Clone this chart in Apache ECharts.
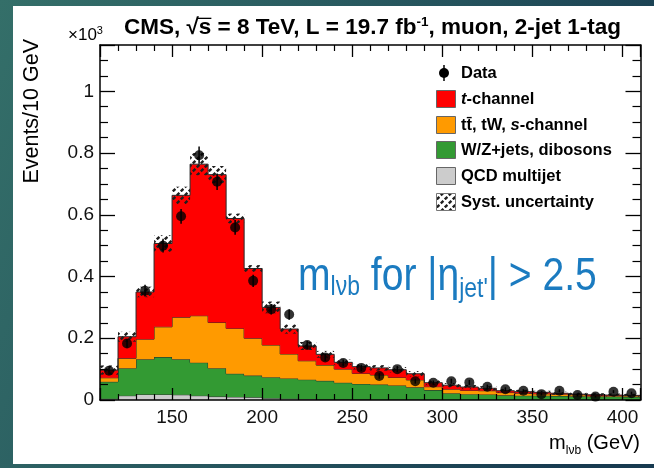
<!DOCTYPE html>
<html>
<head>
<meta charset="utf-8">
<script src="https://cdn.jsdelivr.net/npm/echarts@6/dist/echarts.min.js"></script>
<style>
html,body{margin:0;padding:0;background:#2a5d61;}
#chart{width:654px;height:468px;}
</style>
</head>
<body>
<div id="chart"></div>
<script>
// m_lvb distribution, muon channel, 2-jet 1-tag, in units of 10^3 events per 10 GeV
const binEdges = [110,120,130,140,150,160,170,180,190,200,210,220,230,240,250,260,270,280,290,300,310,320,330,340,350,360,370,380,390,400,410];

const qcdMultijet = [0.004,0.014,0.018,0.018,0.017,0.014,0.011,0.010,0.009,0.006,0.004,0.003,0.002,0.002,0.002,0.001,0.001,0.001,0.001,0.001,0.001,0.001,0.001,0.001,0.001,0.001,0.001,0.001,0.001,0.001];
const wzDibosons = [0.055,0.089,0.114,0.121,0.115,0.107,0.092,0.075,0.070,0.068,0.066,0.063,0.060,0.054,0.050,0.049,0.046,0.040,0.031,0.021,0.018,0.017,0.014,0.013,0.013,0.012,0.011,0.010,0.010,0.009];
const ttbarTwS = [0.013,0.032,0.065,0.098,0.136,0.152,0.148,0.147,0.121,0.104,0.079,0.061,0.051,0.044,0.034,0.031,0.026,0.024,0.011,0.013,0.012,0.012,0.009,0.008,0.006,0.006,0.005,0.003,0.003,0.003];
const tChannel = [0.025,0.070,0.153,0.270,0.395,0.491,0.479,0.356,0.226,0.122,0.081,0.048,0.035,0.022,0.022,0.023,0.025,0.020,0.013,0.013,0.011,0.008,0.006,0.005,0.005,0.003,0.002,0.003,0.002,0.002];
const systUncertainty = [0.015,0.016,0.017,0.027,0.028,0.036,0.028,0.016,0.011,0.019,0.015,0.013,0.011,0.009,0.009,0.009,0.009,0.009,0.008,0.007,0.007,0.007,0.006,0.006,0.005,0.005,0.005,0.005,0.005,0.005];

const dataValues = [0.095,0.183,0.354,0.500,0.595,0.793,0.707,0.559,0.386,0.294,0.277,0.178,0.138,0.120,0.104,0.078,0.100,0.061,0.056,0.061,0.057,0.043,0.035,0.030,0.019,0.030,0.016,0.011,0.027,0.022];
const dataErrors = [0.010,0.014,0.019,0.022,0.024,0.028,0.027,0.024,0.020,0.017,0.017,0.013,0.012,0.011,0.010,0.009,0.010,0.008,0.007,0.008,0.008,0.007,0.006,0.005,0.004,0.005,0.004,0.003,0.005,0.005];

const legendLabels = ['Data', 't-channel', 'tt\u0304, tW, s-channel', 'W/Z+jets, dibosons', 'QCD multijet', 'Syst. uncertainty'];

const FONT = "'Liberation Sans', Arial, Helvetica, sans-serif";
const COLORS = { qcd: '#cccccc', wz: '#339a33', top: '#ff9a00', tch: '#ff0000', edge: '#2a2a2a' };

// stack the backgrounds bottom-up
const layers = [];
(function () {
  let run = qcdMultijet.map(() => 0);
  [[qcdMultijet, COLORS.qcd], [wzDibosons, COLORS.wz], [ttbarTwS, COLORS.top], [tChannel, COLORS.tch]].forEach(([vals, color]) => {
    const base = run.slice();
    run = run.map((v, i) => v + vals[i]);
    layers.push({ base, top: run.slice(), color });
  });
})();
const mcTotal = layers[layers.length - 1].top;

// checkered diagonal-dash hatch for the systematic band
const hatch = document.createElement('canvas');
hatch.width = 8; hatch.height = 8;
(function () {
  const g = hatch.getContext('2d');
  g.strokeStyle = '#1e1e1e';
  g.lineWidth = 2.4;
  g.lineCap = 'butt';
  g.beginPath();
  g.moveTo(0.8, 3.4); g.lineTo(3.4, 0.8);
  g.moveTo(4.8, 7.4); g.lineTo(7.4, 4.8);
  g.stroke();
})();

function layerSeries(layer) {
  return {
    type: 'custom', coordinateSystem: 'cartesian2d', clip: true, silent: true, z: 2,
    data: [[binEdges[0], 0]],
    renderItem(params, api) {
      const pts = [];
      for (let i = 0; i < layer.top.length; i++) {
        pts.push(api.coord([binEdges[i], layer.top[i]]));
        pts.push(api.coord([binEdges[i + 1], layer.top[i]]));
      }
      const outline = pts.slice();
      for (let i = layer.top.length - 1; i >= 0; i--) {
        pts.push(api.coord([binEdges[i + 1], layer.base[i]]));
        pts.push(api.coord([binEdges[i], layer.base[i]]));
      }
      return {
        type: 'group', children: [
          { type: 'polygon', shape: { points: pts }, style: { fill: layer.color, stroke: null } },
          { type: 'polyline', shape: { points: outline }, style: { fill: null, stroke: COLORS.edge, lineWidth: 1 } }
        ]
      };
    }
  };
}

const bandData = mcTotal.map((t, i) => [binEdges[i], binEdges[i + 1], t - systUncertainty[i], t + systUncertainty[i]]);
const binCenters = dataValues.map((v, i) => (binEdges[i] + binEdges[i + 1]) / 2);

// text helpers
const measureCtx = document.createElement('canvas').getContext('2d');
function fontStr(p) { return (p.style || 'normal') + ' ' + (p.weight || 'normal') + ' ' + p.size + 'px ' + (p.family || FONT); }
function textWidth(p) { measureCtx.font = fontStr(p); return measureCtx.measureText(p.t).width; }
function textRun(parts, x, baseline, color, opts) {
  opts = opts || {};
  const sx = opts.scaleX || 1;
  let total = 0;
  parts.forEach(p => { total += textWidth(p) * sx; });
  let cx = opts.alignRight ? x - total : x;
  return parts.map(p => {
    const el = {
      type: 'text', x: cx, y: baseline + (p.dy || 0) - 0.31 * p.size, scaleX: sx, z: 50,
      style: { text: p.t, font: fontStr(p), fill: color, align: 'left', verticalAlign: 'middle' }
    };
    cx += textWidth(p) * sx;
    return el;
  });
}

const graphics = [];
// background and panel
graphics.push({
  type: 'rect', z: -20, silent: true, shape: { x: 0, y: 0, width: 654, height: 468 },
  style: { fill: new echarts.graphic.LinearGradient(0, 0, 1, 0.6, [
    { offset: 0, color: '#346f69' }, { offset: 0.6, color: '#24525c' }, { offset: 1, color: '#173a50' }
  ]) }
});
graphics.push({ type: 'rect', z: -10, silent: true, shape: { x: 13, y: 6, width: 641, height: 458 }, style: { fill: '#ffffff' } });

// title and exponent
const TITLE_X = 124, TITLE_BASE = 35, TITLE_SIZE = 22.5;
graphics.push(...textRun([
  { t: 'CMS, \u221As = 8 TeV, L = 19.7 fb', size: TITLE_SIZE, weight: 'bold' },
  { t: '-1', size: 13.5, weight: 'bold', dy: -8.5 },
  { t: ', muon, 2-jet 1-tag', size: TITLE_SIZE, weight: 'bold' }
], TITLE_X, TITLE_BASE, '#000'));
(function () {
  // overbar of the square root
  const pre = textWidth({ t: 'CMS, \u221A', size: TITLE_SIZE, weight: 'bold' });
  const sw = textWidth({ t: 's', size: TITLE_SIZE, weight: 'bold' });
  const yb = TITLE_BASE - TITLE_SIZE * 0.74;
  graphics.push({ type: 'line', z: 50, shape: { x1: TITLE_X + pre - 1, y1: yb, x2: TITLE_X + pre + sw, y2: yb }, style: { stroke: '#000', lineWidth: 1.3 } });
})();
graphics.push(...textRun([
  { t: '\u00d710', size: 17 },
  { t: '3', size: 11, dy: -7 }
], 68, 41, '#000'));

// y-axis title
graphics.push({
  type: 'text', x: 32, y: 39, rotation: Math.PI / 2, z: 50,
  style: { text: 'Events/10 GeV', font: 'normal normal 21.5px ' + FONT, fill: '#000', align: 'right', verticalAlign: 'middle' }
});
// x-axis title
graphics.push(...textRun([
  { t: 'm', size: 20 },
  { t: 'l\u03bdb', size: 12, dy: 4 },
  { t: ' (GeV)', size: 20 }
], 640, 450, '#000', { alignRight: true }));

// annotation
graphics.push(...textRun([
  { t: 'm', size: 46 },
  { t: 'l\u03bdb', size: 27, dy: 4 },
  { t: ' for |\u03b7', size: 46 },
  { t: 'jet\'', size: 27, dy: 6 },
  { t: '| > 2.5', size: 46 }
], 298, 292, '#1b7bc0', { scaleX: 0.85 }));

// legend
const rowY = [73, 99, 125, 150, 176, 202];
const boxFills = [null, COLORS.tch, COLORS.top, COLORS.wz, COLORS.qcd, null];
rowY.forEach((y, i) => {
  if (i === 0) {
    graphics.push({ type: 'line', z: 50, shape: { x1: 444, y1: 65, x2: 444, y2: 81 }, style: { stroke: '#000', lineWidth: 1.5 } });
    graphics.push({ type: 'circle', z: 51, shape: { cx: 444, cy: y, r: 5 }, style: { fill: '#000' } });
  } else if (i === 5) {
    graphics.push({ type: 'rect', z: 50, shape: { x: 436.5, y: y - 8.5, width: 19, height: 17 }, style: { fill: '#ffffff', stroke: null } });
    graphics.push({ type: 'rect', z: 51, shape: { x: 436.5, y: y - 8.5, width: 19, height: 17 }, style: { fill: { image: hatch, repeat: 'repeat' }, stroke: '#777', lineWidth: 1 } });
  } else {
    graphics.push({ type: 'rect', z: 50, shape: { x: 436.5, y: y - 8.5, width: 19, height: 17 }, style: { fill: boxFills[i], stroke: '#666', lineWidth: 1 } });
  }
});
function legendText(y, parts) { graphics.push(...textRun(parts, 461, y + 6, '#000')); }
legendText(rowY[0], [{ t: legendLabels[0], size: 16.5, weight: 'bold' }]);
legendText(rowY[1], [{ t: 't', size: 16.5, weight: 'bold', style: 'italic' }, { t: '-channel', size: 16.5, weight: 'bold' }]);
legendText(rowY[2], [{ t: 'tt\u0304, tW, ', size: 16.5, weight: 'bold' }, { t: 's', size: 16.5, weight: 'bold', style: 'italic' }, { t: '-channel', size: 16.5, weight: 'bold' }]);
legendText(rowY[3], [{ t: legendLabels[3], size: 16.5, weight: 'bold' }]);
legendText(rowY[4], [{ t: legendLabels[4], size: 16.5, weight: 'bold' }]);
legendText(rowY[5], [{ t: legendLabels[5], size: 16.5, weight: 'bold' }]);

const axisLineStyle = { color: '#000', width: 1.5 };
function xAxisDef(pos, showLabels) {
  return {
    type: 'value', position: pos, min: 110, max: 410, minInterval: 50, maxInterval: 50, z: 10,
    axisLine: { show: true, onZero: false, lineStyle: axisLineStyle },
    axisTick: { show: true, inside: true, length: 12, lineStyle: { color: '#000', width: 1.3 } },
    minorTick: { show: true, splitNumber: 5, length: 6, lineStyle: { color: '#000', width: 1.2 } },
    axisLabel: { show: showLabels, showMinLabel: false, showMaxLabel: false, margin: 8, color: '#111', fontSize: 19, fontFamily: FONT },
    splitLine: { show: false }, minorSplitLine: { show: false }
  };
}
function yAxisDef(pos, showLabels) {
  return {
    type: 'value', position: pos, min: 0, max: 1.15, interval: 0.2, z: 10,
    axisLine: { show: true, onZero: false, lineStyle: axisLineStyle },
    axisTick: { show: true, inside: true, length: 15, lineStyle: { color: '#000', width: 1.3 } },
    minorTick: { show: true, splitNumber: 4, length: 8, lineStyle: { color: '#000', width: 1.2 } },
    axisLabel: { show: showLabels, showMaxLabel: false, margin: 6, color: '#111', fontSize: 19, fontFamily: FONT },
    splitLine: { show: false }, minorSplitLine: { show: false }
  };
}

const chart = echarts.init(document.getElementById('chart'), null, { renderer: 'canvas' });
chart.setOption({
  animation: false,
  grid: { left: 100, right: 13.5, top: 45, bottom: 68, containLabel: false },
  xAxis: [xAxisDef('bottom', true), xAxisDef('top', false)],
  yAxis: [yAxisDef('left', true), yAxisDef('right', false)],
  graphic: { elements: graphics },
  series: [
    ...layers.map(layerSeries),
    {
      type: 'custom', coordinateSystem: 'cartesian2d', clip: true, silent: true, z: 3,
      data: bandData, encode: { x: [0, 1], y: [2, 3] },
      renderItem(params, api) {
        const p1 = api.coord([api.value(0), api.value(3)]);
        const p2 = api.coord([api.value(1), api.value(2)]);
        return { type: 'rect', shape: { x: p1[0], y: p1[1], width: p2[0] - p1[0], height: p2[1] - p1[1] },
          style: { fill: { image: hatch, repeat: 'repeat' }, stroke: null } };
      }
    },
    {
      type: 'custom', coordinateSystem: 'cartesian2d', clip: true, silent: true, z: 4,
      data: dataValues.map((v, i) => [binCenters[i], v - dataErrors[i], v + dataErrors[i]]),
      encode: { x: 0, y: [1, 2] },
      renderItem(params, api) {
        const a = api.coord([api.value(0), api.value(1)]);
        const b = api.coord([api.value(0), api.value(2)]);
        return { type: 'line', shape: { x1: a[0], y1: a[1], x2: b[0], y2: b[1] }, style: { stroke: '#000', lineWidth: 1.5 } };
      }
    },
    {
      type: 'scatter', silent: true, z: 5, symbol: 'circle', symbolSize: 10,
      itemStyle: { color: '#000' },
      data: dataValues.map((v, i) => [binCenters[i], v])
    }
  ]
});
</script>
</body>
</html>
